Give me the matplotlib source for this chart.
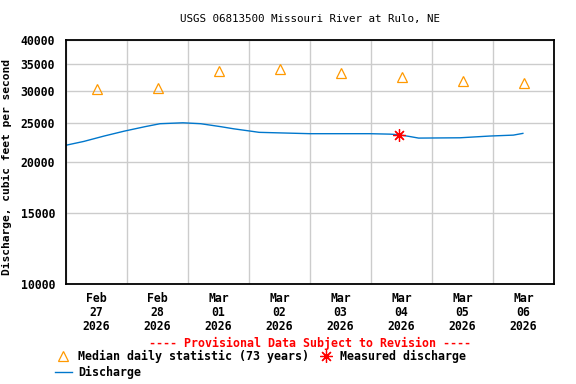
import matplotlib
matplotlib.use('Agg')
import matplotlib.pyplot as plt
import matplotlib.ticker as mticker
import matplotlib.dates as mdates
import pandas as pd

# discharge (cfs)
q_time = ['2026-02-27 00:00', '2026-02-27 07:00', '2026-02-27 15:00', '2026-02-27 23:00',
          '2026-02-28 07:00', '2026-02-28 13:00', '2026-02-28 22:00', '2026-03-01 05:00',
          '2026-03-01 13:00', '2026-03-01 18:00', '2026-03-02 00:30', '2026-03-02 04:00',
          '2026-03-03 00:00', '2026-03-03 23:30', '2026-03-04 07:30', '2026-03-04 10:50',
          '2026-03-04 15:00', '2026-03-04 18:45', '2026-03-05 11:00', '2026-03-05 22:50',
          '2026-03-06 08:00', '2026-03-06 11:45']
q_val = [22000, 22480, 23180, 23840, 24440, 24860, 24990, 24860, 24440, 24150, 23840,
         23670, 23490, 23490, 23430, 23350, 23130, 22910, 22950, 23180, 23300, 23530]

# median daily statistic (73 years)
med_day = ['2026-02-27', '2026-02-28', '2026-03-01', '2026-03-02',
           '2026-03-03', '2026-03-04', '2026-03-05', '2026-03-06']
med_val = [30200, 30400, 33500, 34000, 33100, 32500, 31600, 31300]

# measured discharge
meas_time = ['2026-03-04 10:50']
meas_val = [23350]

ytick_vals = [10000, 15000, 20000, 25000, 30000, 35000, 40000]

plt.rcParams['font.family'] = 'DejaVu Sans Mono'

fig = plt.figure(figsize=(5.76, 3.84), dpi=100)
ax = fig.add_axes([66/576, 1-284/384, (554-66)/576, (284-40)/384])

t = pd.to_datetime(q_time)
ax.plot(t, q_val, color='#0077cc', lw=1.0)

tm = pd.to_datetime(med_day) + pd.Timedelta(hours=12)
ax.plot(tm, med_val, linestyle='', marker='^', ms=7, mfc='none', mec='#ff9900', mew=0.9)

ax.plot(pd.to_datetime(meas_time), meas_val, linestyle='', marker=(8, 2, 0), ms=9,
        color='red', mew=0.9)

ax.set_yscale('log')
ax.set_ylim(10000, 40000)
ax.yaxis.set_major_locator(mticker.FixedLocator(ytick_vals))
ax.yaxis.set_major_formatter(mticker.FuncFormatter(lambda v, p: '%d' % v))
ax.yaxis.set_minor_locator(mticker.NullLocator())

ax.set_xlim(pd.Timestamp('2026-02-27'), pd.Timestamp('2026-03-07'))
ax.xaxis.set_major_locator(mdates.DayLocator())
ax.xaxis.set_major_formatter(mticker.NullFormatter())
ax.xaxis.set_minor_locator(mdates.HourLocator(byhour=[12]))
ax.xaxis.set_minor_formatter(mdates.DateFormatter('%b\n%d\n%Y'))

ax.grid(True, which='major', color='#cccccc', lw=1.0)
ax.set_axisbelow(True)
ax.tick_params(axis='both', which='both', length=0)
ax.tick_params(axis='y', pad=8, labelsize=8.3)
ax.tick_params(axis='x', which='minor', pad=6, labelsize=8.3)
for lab in ax.get_yticklabels() + ax.get_xticklabels(minor=True):
    lab.set_fontweight('bold')
    lab.set_linespacing(1.1)
for s in ax.spines.values():
    s.set_linewidth(1.3)

ax.set_ylabel('Discharge, cubic feet per second', fontsize=8.1, fontweight='bold')
ax.yaxis.set_label_coords(-(66 - 12)/488, (284 - 167)/244)

fig.text(310/576, 1-19/384, 'USGS 06813500 Missouri River at Rulo, NE',
         ha='center', va='center', fontsize=7.8)
fig.text(310/576, 1-343/384, '---- Provisional Data Subject to Revision ----',
         ha='center', va='center', fontsize=8.4, color='red', fontweight='bold')

# legend drawn by hand
fig.lines.append(plt.Line2D([63/576], [1-356/384], marker='^', ms=7, mfc='none',
                            mec='#ff9900', mew=0.9, transform=fig.transFigure))
fig.text(78/576, 1-356/384, 'Median daily statistic (73 years)', va='center',
         fontsize=8.4, fontweight='bold')
fig.lines.append(plt.Line2D([326/576], [1-356/384], marker=(8, 2, 0), ms=9,
                            color='red', mew=0.9, transform=fig.transFigure))
fig.text(340/576, 1-356/384, 'Measured discharge', va='center',
         fontsize=8.4, fontweight='bold')
fig.lines.append(plt.Line2D([55/576, 72/576], [1-372/384, 1-372/384], color='#0077cc',
                            lw=1.0, transform=fig.transFigure))
fig.text(78/576, 1-372/384, 'Discharge', va='center', fontsize=8.4, fontweight='bold')

fig.savefig('out.png', dpi=100)
